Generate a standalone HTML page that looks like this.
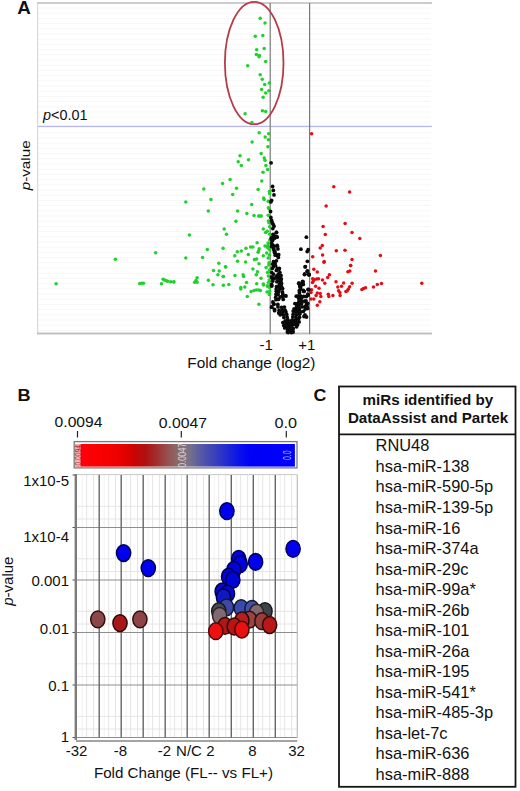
<!DOCTYPE html><html><head><meta charset="utf-8"><style>
html,body{margin:0;padding:0;background:#fff;width:520px;height:791px;overflow:hidden}
svg{position:absolute;left:0;top:0;display:block}
text{font-family:"Liberation Sans",sans-serif;fill:#111}
</style></head><body>
<svg width="520" height="791" viewBox="0 0 520 791">
<defs><linearGradient id="cb" x1="0" x2="1" y1="0" y2="0"><stop offset="0.002" stop-color="#ff0010"/><stop offset="0.111" stop-color="#fa0000"/><stop offset="0.193" stop-color="#ee0000"/><stop offset="0.239" stop-color="#dd0000"/><stop offset="0.271" stop-color="#c80404"/><stop offset="0.316" stop-color="#b01010"/><stop offset="0.362" stop-color="#a42a2a"/><stop offset="0.408" stop-color="#984848"/><stop offset="0.453" stop-color="#8e6464"/><stop offset="0.485" stop-color="#887078"/><stop offset="0.522" stop-color="#74708c"/><stop offset="0.567" stop-color="#5a5aa4"/><stop offset="0.613" stop-color="#4448b4"/><stop offset="0.658" stop-color="#3038c4"/><stop offset="0.704" stop-color="#1a24d8"/><stop offset="0.750" stop-color="#0810ec"/><stop offset="0.795" stop-color="#0000f6"/><stop offset="1.000" stop-color="#0000ff"/></linearGradient></defs>
<text transform="translate(17.3 13.8) scale(1.07 1)" font-size="17.6" font-weight="bold">A</text>
<path d="M38 8.0H431 M38 13.2H431 M38 18.4H431 M38 23.6H431 M38 28.8H431 M38 34.0H431 M38 39.2H431 M38 44.4H431 M38 49.6H431 M38 54.8H431 M38 60.0H431 M38 65.2H431 M38 70.4H431 M38 75.6H431 M38 80.8H431 M38 86.0H431 M38 91.2H431 M38 96.4H431 M38 101.6H431 M38 106.8H431 M38 112.0H431 M38 117.2H431 M38 122.4H431 M38 127.6H431 M38 132.8H431 M38 138.0H431 M38 143.2H431 M38 148.4H431 M38 153.6H431 M38 158.8H431 M38 164.0H431 M38 169.2H431 M38 174.4H431 M38 179.6H431 M38 184.8H431 M38 190.0H431 M38 195.2H431 M38 200.4H431 M38 205.6H431 M38 210.8H431 M38 216.0H431 M38 221.2H431 M38 226.4H431 M38 231.6H431 M38 236.8H431 M38 242.0H431 M38 247.2H431 M38 252.4H431 M38 257.6H431 M38 262.8H431 M38 268.0H431 M38 273.2H431 M38 278.4H431 M38 283.6H431 M38 288.8H431 M38 294.0H431 M38 299.2H431 M38 304.4H431 M38 309.6H431 M38 314.8H431 M38 320.0H431 M38 325.2H431 M38 330.4H431" stroke="#f7f7f7" stroke-width="1" fill="none"/>
<path d="M37 3H432" stroke="#bdbdbd" stroke-width="1.6"/>
<path d="M37.7 3V334" stroke="#d2d2d2" stroke-width="1"/>
<path d="M37 333.4H432" stroke="#c0c0c0" stroke-width="2"/>
<path d="M38 126.4H432" stroke="#b8b8f2" stroke-width="1.1"/>
<path d="M270.2 3V334M309.6 3V334" stroke="#7a7a7a" stroke-width="1.2"/>
<ellipse cx="254.2" cy="63" rx="29.3" ry="61.2" fill="none" stroke="#b43c48" stroke-width="1.8"/>
<g fill="#20d02c"><circle cx="260.2" cy="18.2" r="1.75"/><circle cx="265.0" cy="23.0" r="1.75"/><circle cx="255.3" cy="36.3" r="1.75"/><circle cx="262.8" cy="35.5" r="1.75"/><circle cx="264.2" cy="48.4" r="1.75"/><circle cx="256.7" cy="49.8" r="1.75"/><circle cx="256.4" cy="54.5" r="1.75"/><circle cx="259.3" cy="55.4" r="1.75"/><circle cx="259.0" cy="56.7" r="1.75"/><circle cx="265.7" cy="61.4" r="1.75"/><circle cx="247.7" cy="65.7" r="1.75"/><circle cx="260.2" cy="74.7" r="1.75"/><circle cx="262.2" cy="79.2" r="1.75"/><circle cx="264.7" cy="84.4" r="1.75"/><circle cx="269.3" cy="83.0" r="1.75"/><circle cx="261.6" cy="89.6" r="1.75"/><circle cx="265.7" cy="93.1" r="1.75"/><circle cx="268.8" cy="90.8" r="1.75"/><circle cx="263.1" cy="97.2" r="1.75"/><circle cx="262.4" cy="110.7" r="1.75"/><circle cx="265.7" cy="111.6" r="1.75"/><circle cx="245.1" cy="113.7" r="1.75"/><circle cx="251.9" cy="122.5" r="1.75"/><circle cx="259.2" cy="132.8" r="1.75"/><circle cx="268.7" cy="133.7" r="1.75"/><circle cx="265.2" cy="137.1" r="1.75"/><circle cx="268.4" cy="139.8" r="1.75"/><circle cx="252.1" cy="142.1" r="1.75"/><circle cx="267.9" cy="146.7" r="1.75"/><circle cx="261.2" cy="153.6" r="1.75"/><circle cx="240.0" cy="155.8" r="1.75"/><circle cx="264.2" cy="157.9" r="1.75"/><circle cx="265.0" cy="160.2" r="1.75"/><circle cx="238.2" cy="161.7" r="1.75"/><circle cx="248.5" cy="159.8" r="1.75"/><circle cx="241.3" cy="165.4" r="1.75"/><circle cx="265.9" cy="165.6" r="1.75"/><circle cx="267.6" cy="169.4" r="1.75"/><circle cx="263.0" cy="172.3" r="1.75"/><circle cx="230.1" cy="179.6" r="1.75"/><circle cx="261.8" cy="180.9" r="1.75"/><circle cx="222.5" cy="183.5" r="1.75"/><circle cx="203.8" cy="189.0" r="1.75"/><circle cx="210.9" cy="199.6" r="1.75"/><circle cx="185.8" cy="201.9" r="1.75"/><circle cx="208.3" cy="211.1" r="1.75"/><circle cx="224.2" cy="229.0" r="1.75"/><circle cx="226.5" cy="234.2" r="1.75"/><circle cx="189.4" cy="235.1" r="1.75"/><circle cx="236.5" cy="188.3" r="1.75"/><circle cx="258.1" cy="189.5" r="1.75"/><circle cx="232.7" cy="194.6" r="1.75"/><circle cx="269.4" cy="191.5" r="1.75"/><circle cx="269.6" cy="193.6" r="1.75"/><circle cx="263.6" cy="197.9" r="1.75"/><circle cx="264.2" cy="199.6" r="1.75"/><circle cx="268.2" cy="201.3" r="1.75"/><circle cx="251.7" cy="204.6" r="1.75"/><circle cx="268.4" cy="207.7" r="1.75"/><circle cx="269.0" cy="208.8" r="1.75"/><circle cx="237.6" cy="211.1" r="1.75"/><circle cx="246.8" cy="213.4" r="1.75"/><circle cx="254.0" cy="215.5" r="1.75"/><circle cx="258.6" cy="216.1" r="1.75"/><circle cx="259.8" cy="216.1" r="1.75"/><circle cx="261.3" cy="216.1" r="1.75"/><circle cx="268.2" cy="215.2" r="1.75"/><circle cx="268.4" cy="220.9" r="1.75"/><circle cx="269.0" cy="222.7" r="1.75"/><circle cx="235.9" cy="221.2" r="1.75"/><circle cx="269.6" cy="226.7" r="1.75"/><circle cx="263.3" cy="229.0" r="1.75"/><circle cx="265.6" cy="232.5" r="1.75"/><circle cx="267.3" cy="231.3" r="1.75"/><circle cx="269.6" cy="234.2" r="1.75"/><circle cx="207.3" cy="249.6" r="1.75"/><circle cx="223.1" cy="248.3" r="1.75"/><circle cx="185.8" cy="258.1" r="1.75"/><circle cx="202.6" cy="257.5" r="1.75"/><circle cx="218.8" cy="263.3" r="1.75"/><circle cx="225.7" cy="267.0" r="1.75"/><circle cx="213.5" cy="270.4" r="1.75"/><circle cx="219.2" cy="271.1" r="1.75"/><circle cx="217.9" cy="274.8" r="1.75"/><circle cx="223.3" cy="276.5" r="1.75"/><circle cx="197.1" cy="277.7" r="1.75"/><circle cx="196.0" cy="280.6" r="1.75"/><circle cx="194.6" cy="282.3" r="1.75"/><circle cx="197.1" cy="282.3" r="1.75"/><circle cx="170.6" cy="281.7" r="1.75"/><circle cx="173.8" cy="282.1" r="1.75"/><circle cx="208.4" cy="280.3" r="1.75"/><circle cx="213.0" cy="284.8" r="1.75"/><circle cx="223.4" cy="285.2" r="1.75"/><circle cx="228.8" cy="284.4" r="1.75"/><circle cx="257.1" cy="242.8" r="1.75"/><circle cx="250.6" cy="247.1" r="1.75"/><circle cx="252.9" cy="247.1" r="1.75"/><circle cx="246.0" cy="248.3" r="1.75"/><circle cx="265.0" cy="246.0" r="1.75"/><circle cx="267.3" cy="247.1" r="1.75"/><circle cx="268.4" cy="248.3" r="1.75"/><circle cx="267.9" cy="245.4" r="1.75"/><circle cx="259.2" cy="248.8" r="1.75"/><circle cx="258.6" cy="251.1" r="1.75"/><circle cx="258.1" cy="252.3" r="1.75"/><circle cx="237.3" cy="251.7" r="1.75"/><circle cx="241.3" cy="251.1" r="1.75"/><circle cx="234.8" cy="255.8" r="1.75"/><circle cx="248.3" cy="254.4" r="1.75"/><circle cx="266.7" cy="252.9" r="1.75"/><circle cx="263.3" cy="255.8" r="1.75"/><circle cx="268.2" cy="258.1" r="1.75"/><circle cx="254.4" cy="259.5" r="1.75"/><circle cx="256.7" cy="259.0" r="1.75"/><circle cx="237.5" cy="261.3" r="1.75"/><circle cx="245.6" cy="262.1" r="1.75"/><circle cx="259.0" cy="263.8" r="1.75"/><circle cx="225.5" cy="266.7" r="1.75"/><circle cx="266.1" cy="267.5" r="1.75"/><circle cx="252.9" cy="269.0" r="1.75"/><circle cx="257.5" cy="271.7" r="1.75"/><circle cx="235.0" cy="275.4" r="1.75"/><circle cx="243.1" cy="274.8" r="1.75"/><circle cx="243.6" cy="276.5" r="1.75"/><circle cx="256.3" cy="274.8" r="1.75"/><circle cx="268.4" cy="276.0" r="1.75"/><circle cx="223.2" cy="276.5" r="1.75"/><circle cx="261.0" cy="278.3" r="1.75"/><circle cx="246.5" cy="282.5" r="1.75"/><circle cx="256.7" cy="283.7" r="1.75"/><circle cx="263.3" cy="284.0" r="1.75"/><circle cx="267.3" cy="285.7" r="1.75"/><circle cx="240.8" cy="287.5" r="1.75"/><circle cx="240.8" cy="289.0" r="1.75"/><circle cx="244.8" cy="287.1" r="1.75"/><circle cx="251.1" cy="291.5" r="1.75"/><circle cx="254.0" cy="290.4" r="1.75"/><circle cx="256.3" cy="290.1" r="1.75"/><circle cx="258.6" cy="290.1" r="1.75"/><circle cx="260.4" cy="290.4" r="1.75"/><circle cx="269.6" cy="291.5" r="1.75"/><circle cx="269.0" cy="262.7" r="1.75"/><circle cx="247.3" cy="296.5" r="1.75"/><circle cx="258.9" cy="304.2" r="1.75"/><circle cx="269.3" cy="294.4" r="1.75"/><circle cx="267.5" cy="286.2" r="1.75"/><circle cx="263.5" cy="285.0" r="1.75"/><circle cx="56.1" cy="283.8" r="1.75"/><circle cx="115.4" cy="259.2" r="1.75"/><circle cx="155.7" cy="252.8" r="1.75"/><circle cx="139.7" cy="283.5" r="1.75"/><circle cx="141.8" cy="283.2" r="1.75"/><circle cx="143.5" cy="283.2" r="1.75"/><circle cx="161.5" cy="283.8" r="1.75"/><circle cx="163.1" cy="279.2" r="1.75"/><circle cx="164.6" cy="280.0" r="1.75"/><circle cx="166.2" cy="280.8" r="1.75"/><circle cx="167.7" cy="281.2" r="1.75"/><circle cx="173.8" cy="281.8" r="1.75"/><circle cx="269.5" cy="255.0" r="1.75"/><circle cx="268.8" cy="265.0" r="1.75"/><circle cx="269.5" cy="270.0" r="1.75"/><circle cx="267.5" cy="272.5" r="1.75"/><circle cx="269.3" cy="280.0" r="1.75"/><circle cx="268.5" cy="282.5" r="1.75"/><circle cx="269.5" cy="287.5" r="1.75"/><circle cx="267.0" cy="292.0" r="1.75"/><circle cx="269.7" cy="240.0" r="1.75"/><circle cx="268.0" cy="243.0" r="1.75"/><circle cx="269.8" cy="250.0" r="1.75"/></g>
<g fill="#e60c14"><circle cx="311.6" cy="133.7" r="1.75"/><circle cx="333.8" cy="186.7" r="1.75"/><circle cx="349.6" cy="192.1" r="1.75"/><circle cx="326.1" cy="206.0" r="1.75"/><circle cx="345.1" cy="223.4" r="1.75"/><circle cx="323.1" cy="226.5" r="1.75"/><circle cx="352.0" cy="232.5" r="1.75"/><circle cx="325.3" cy="234.6" r="1.75"/><circle cx="359.8" cy="238.4" r="1.75"/><circle cx="322.3" cy="245.4" r="1.75"/><circle cx="320.2" cy="248.1" r="1.75"/><circle cx="336.3" cy="250.8" r="1.75"/><circle cx="345.0" cy="250.2" r="1.75"/><circle cx="380.4" cy="255.4" r="1.75"/><circle cx="312.7" cy="256.7" r="1.75"/><circle cx="322.6" cy="255.1" r="1.75"/><circle cx="352.0" cy="259.4" r="1.75"/><circle cx="324.2" cy="261.5" r="1.75"/><circle cx="350.6" cy="265.6" r="1.75"/><circle cx="375.5" cy="271.1" r="1.75"/><circle cx="421.8" cy="283.2" r="1.75"/><circle cx="381.5" cy="283.5" r="1.75"/><circle cx="377.3" cy="284.6" r="1.75"/><circle cx="373.5" cy="286.9" r="1.75"/><circle cx="361.9" cy="289.5" r="1.75"/><circle cx="363.5" cy="288.5" r="1.75"/><circle cx="365.5" cy="287.7" r="1.75"/><circle cx="324.0" cy="262.3" r="1.75"/><circle cx="350.7" cy="265.5" r="1.75"/><circle cx="347.9" cy="271.8" r="1.75"/><circle cx="349.8" cy="271.0" r="1.75"/><circle cx="313.8" cy="269.2" r="1.75"/><circle cx="317.3" cy="272.1" r="1.75"/><circle cx="329.4" cy="274.7" r="1.75"/><circle cx="327.7" cy="277.6" r="1.75"/><circle cx="312.7" cy="278.7" r="1.75"/><circle cx="314.4" cy="279.5" r="1.75"/><circle cx="316.7" cy="279.1" r="1.75"/><circle cx="318.5" cy="278.7" r="1.75"/><circle cx="313.3" cy="281.0" r="1.75"/><circle cx="312.5" cy="282.5" r="1.75"/><circle cx="322.5" cy="279.9" r="1.75"/><circle cx="324.8" cy="283.3" r="1.75"/><circle cx="336.0" cy="281.8" r="1.75"/><circle cx="343.6" cy="283.0" r="1.75"/><circle cx="352.1" cy="283.3" r="1.75"/><circle cx="315.6" cy="286.2" r="1.75"/><circle cx="319.0" cy="288.3" r="1.75"/><circle cx="337.8" cy="287.1" r="1.75"/><circle cx="341.5" cy="286.2" r="1.75"/><circle cx="349.6" cy="286.8" r="1.75"/><circle cx="348.4" cy="289.1" r="1.75"/><circle cx="347.3" cy="290.8" r="1.75"/><circle cx="345.9" cy="291.4" r="1.75"/><circle cx="311.5" cy="289.7" r="1.75"/><circle cx="311.0" cy="292.6" r="1.75"/><circle cx="317.3" cy="293.1" r="1.75"/><circle cx="320.2" cy="293.4" r="1.75"/><circle cx="316.1" cy="295.4" r="1.75"/><circle cx="320.8" cy="296.6" r="1.75"/><circle cx="328.3" cy="294.3" r="1.75"/><circle cx="328.8" cy="296.6" r="1.75"/><circle cx="332.9" cy="295.4" r="1.75"/><circle cx="338.6" cy="290.8" r="1.75"/><circle cx="339.8" cy="292.6" r="1.75"/><circle cx="340.1" cy="295.4" r="1.75"/><circle cx="311.0" cy="298.9" r="1.75"/><circle cx="313.8" cy="298.9" r="1.75"/><circle cx="319.8" cy="301.8" r="1.75"/><circle cx="317.3" cy="305.3" r="1.75"/></g>
<g fill="#0a0a0a"><circle cx="271.1" cy="162.8" r="1.9"/><circle cx="272.6" cy="186.5" r="1.9"/><circle cx="273.3" cy="190.4" r="1.9"/><circle cx="274.0" cy="194.9" r="1.9"/><circle cx="271.6" cy="200.4" r="1.9"/><circle cx="270.8" cy="201.9" r="1.9"/><circle cx="270.5" cy="211.5" r="1.9"/><circle cx="270.8" cy="217.5" r="1.9"/><circle cx="271.6" cy="220.4" r="1.9"/><circle cx="272.1" cy="222.3" r="1.9"/><circle cx="273.1" cy="224.2" r="1.9"/><circle cx="274.0" cy="226.2" r="1.9"/><circle cx="272.8" cy="228.6" r="1.9"/><circle cx="276.4" cy="232.4" r="1.9"/><circle cx="273.0" cy="234.3" r="1.9"/><circle cx="276.5" cy="232.5" r="1.9"/><circle cx="273.6" cy="235.4" r="1.9"/><circle cx="274.8" cy="236.5" r="1.9"/><circle cx="277.1" cy="237.1" r="1.9"/><circle cx="271.3" cy="238.2" r="1.9"/><circle cx="273.1" cy="238.8" r="1.9"/><circle cx="273.5" cy="234.8" r="1.9"/><circle cx="274.5" cy="237.7" r="1.9"/><circle cx="276.9" cy="236.9" r="1.9"/><circle cx="271.6" cy="239.1" r="1.9"/><circle cx="272.6" cy="240.6" r="1.9"/><circle cx="271.6" cy="243.5" r="1.9"/><circle cx="272.6" cy="244.9" r="1.9"/><circle cx="277.2" cy="245.4" r="1.9"/><circle cx="273.5" cy="248.3" r="1.9"/><circle cx="274.0" cy="250.2" r="1.9"/><circle cx="274.5" cy="252.6" r="1.9"/><circle cx="275.5" cy="254.0" r="1.9"/><circle cx="277.4" cy="255.5" r="1.9"/><circle cx="278.3" cy="257.4" r="1.9"/><circle cx="273.5" cy="261.7" r="1.9"/><circle cx="275.0" cy="263.2" r="1.9"/><circle cx="276.4" cy="260.8" r="1.9"/><circle cx="272.6" cy="264.1" r="1.9"/><circle cx="273.5" cy="266.5" r="1.9"/><circle cx="275.5" cy="265.6" r="1.9"/><circle cx="277.4" cy="268.5" r="1.9"/><circle cx="278.8" cy="269.4" r="1.9"/><circle cx="276.4" cy="270.4" r="1.9"/><circle cx="279.8" cy="272.3" r="1.9"/><circle cx="278.3" cy="274.2" r="1.9"/><circle cx="271.6" cy="272.3" r="1.9"/><circle cx="273.5" cy="274.2" r="1.9"/><circle cx="271.6" cy="277.1" r="1.9"/><circle cx="274.0" cy="278.1" r="1.9"/><circle cx="277.4" cy="277.1" r="1.9"/><circle cx="279.3" cy="278.6" r="1.9"/><circle cx="306.4" cy="237.2" r="1.9"/><circle cx="300.9" cy="249.2" r="1.9"/><circle cx="308.2" cy="249.7" r="1.9"/><circle cx="307.2" cy="251.6" r="1.9"/><circle cx="307.4" cy="261.3" r="1.9"/><circle cx="305.3" cy="266.7" r="1.9"/><circle cx="307.2" cy="271.3" r="1.9"/><circle cx="304.8" cy="274.2" r="1.9"/><circle cx="309.1" cy="274.4" r="1.9"/><circle cx="305.2" cy="266.8" r="1.9"/><circle cx="307.5" cy="271.0" r="1.9"/><circle cx="304.6" cy="274.1" r="1.9"/><circle cx="308.7" cy="274.5" r="1.9"/><circle cx="302.3" cy="282.2" r="1.9"/><circle cx="301.2" cy="285.1" r="1.9"/><circle cx="300.0" cy="286.8" r="1.9"/><circle cx="308.7" cy="289.7" r="1.9"/><circle cx="304.0" cy="291.4" r="1.9"/><circle cx="308.1" cy="294.9" r="1.9"/><circle cx="276.7" cy="276.2" r="1.9"/><circle cx="279.0" cy="275.9" r="1.9"/><circle cx="281.0" cy="275.5" r="1.9"/><circle cx="276.6" cy="278.2" r="1.9"/><circle cx="279.4" cy="278.2" r="1.9"/><circle cx="281.3" cy="279.0" r="1.9"/><circle cx="276.9" cy="281.7" r="1.9"/><circle cx="279.5" cy="281.0" r="1.9"/><circle cx="280.9" cy="281.0" r="1.9"/><circle cx="279.3" cy="283.9" r="1.9"/><circle cx="281.5" cy="283.4" r="1.9"/><circle cx="276.5" cy="286.6" r="1.9"/><circle cx="279.1" cy="286.5" r="1.9"/><circle cx="281.5" cy="286.7" r="1.9"/><circle cx="276.2" cy="289.1" r="1.9"/><circle cx="279.6" cy="289.2" r="1.9"/><circle cx="282.6" cy="288.6" r="1.9"/><circle cx="276.3" cy="291.3" r="1.9"/><circle cx="278.8" cy="291.8" r="1.9"/><circle cx="282.5" cy="292.0" r="1.9"/><circle cx="276.0" cy="294.3" r="1.9"/><circle cx="278.0" cy="294.5" r="1.9"/><circle cx="282.7" cy="293.8" r="1.9"/><circle cx="275.7" cy="297.3" r="1.9"/><circle cx="280.1" cy="297.0" r="1.9"/><circle cx="282.5" cy="296.5" r="1.9"/><circle cx="276.0" cy="299.7" r="1.9"/><circle cx="278.5" cy="299.3" r="1.9"/><circle cx="283.2" cy="299.4" r="1.9"/><circle cx="277.8" cy="304.5" r="1.9"/><circle cx="278.0" cy="306.9" r="1.9"/><circle cx="281.6" cy="307.3" r="1.9"/><circle cx="284.4" cy="307.1" r="1.9"/><circle cx="279.1" cy="310.3" r="1.9"/><circle cx="282.3" cy="309.9" r="1.9"/><circle cx="285.1" cy="310.2" r="1.9"/><circle cx="280.2" cy="312.7" r="1.9"/><circle cx="283.0" cy="312.0" r="1.9"/><circle cx="285.9" cy="312.0" r="1.9"/><circle cx="280.2" cy="314.8" r="1.9"/><circle cx="283.2" cy="314.7" r="1.9"/><circle cx="286.7" cy="314.5" r="1.9"/><circle cx="283.9" cy="317.4" r="1.9"/><circle cx="287.1" cy="317.2" r="1.9"/><circle cx="287.9" cy="319.8" r="1.9"/><circle cx="282.9" cy="322.6" r="1.9"/><circle cx="288.3" cy="323.3" r="1.9"/><circle cx="283.8" cy="325.4" r="1.9"/><circle cx="286.9" cy="325.9" r="1.9"/><circle cx="284.7" cy="327.9" r="1.9"/><circle cx="288.1" cy="328.0" r="1.9"/><circle cx="290.5" cy="327.7" r="1.9"/><circle cx="296.3" cy="296.2" r="1.9"/><circle cx="298.5" cy="295.9" r="1.9"/><circle cx="300.5" cy="295.8" r="1.9"/><circle cx="303.7" cy="296.5" r="1.9"/><circle cx="306.4" cy="296.5" r="1.9"/><circle cx="298.7" cy="298.3" r="1.9"/><circle cx="301.2" cy="298.7" r="1.9"/><circle cx="298.9" cy="301.5" r="1.9"/><circle cx="301.6" cy="301.6" r="1.9"/><circle cx="304.5" cy="301.2" r="1.9"/><circle cx="294.9" cy="303.6" r="1.9"/><circle cx="297.5" cy="303.7" r="1.9"/><circle cx="299.9" cy="304.0" r="1.9"/><circle cx="301.6" cy="303.5" r="1.9"/><circle cx="306.4" cy="304.1" r="1.9"/><circle cx="296.7" cy="306.4" r="1.9"/><circle cx="299.0" cy="306.9" r="1.9"/><circle cx="302.1" cy="306.8" r="1.9"/><circle cx="305.0" cy="306.7" r="1.9"/><circle cx="307.0" cy="306.2" r="1.9"/><circle cx="294.1" cy="308.8" r="1.9"/><circle cx="296.3" cy="309.4" r="1.9"/><circle cx="299.4" cy="309.1" r="1.9"/><circle cx="305.2" cy="309.0" r="1.9"/><circle cx="307.5" cy="308.5" r="1.9"/><circle cx="293.2" cy="311.1" r="1.9"/><circle cx="295.6" cy="311.6" r="1.9"/><circle cx="298.5" cy="311.4" r="1.9"/><circle cx="300.9" cy="311.9" r="1.9"/><circle cx="303.4" cy="311.3" r="1.9"/><circle cx="293.2" cy="314.2" r="1.9"/><circle cx="296.5" cy="314.6" r="1.9"/><circle cx="299.6" cy="314.2" r="1.9"/><circle cx="292.8" cy="316.8" r="1.9"/><circle cx="295.9" cy="317.2" r="1.9"/><circle cx="299.5" cy="317.2" r="1.9"/><circle cx="292.2" cy="319.8" r="1.9"/><circle cx="296.3" cy="319.3" r="1.9"/><circle cx="298.6" cy="319.0" r="1.9"/><circle cx="291.8" cy="322.4" r="1.9"/><circle cx="294.1" cy="322.2" r="1.9"/><circle cx="296.7" cy="322.5" r="1.9"/><circle cx="299.1" cy="321.9" r="1.9"/><circle cx="291.2" cy="324.9" r="1.9"/><circle cx="293.1" cy="324.6" r="1.9"/><circle cx="295.3" cy="324.4" r="1.9"/><circle cx="297.6" cy="324.7" r="1.9"/><circle cx="288.9" cy="327.0" r="1.9"/><circle cx="291.6" cy="326.8" r="1.9"/><circle cx="296.6" cy="326.8" r="1.9"/><circle cx="288.0" cy="330.1" r="1.9"/><circle cx="291.1" cy="329.7" r="1.9"/><circle cx="287.4" cy="332.0" r="1.9"/><circle cx="293.1" cy="332.0" r="1.9"/><circle cx="285.2" cy="320.8" r="1.9"/><circle cx="287.4" cy="320.9" r="1.9"/><circle cx="290.5" cy="321.5" r="1.9"/><circle cx="292.0" cy="321.5" r="1.9"/><circle cx="294.4" cy="320.5" r="1.9"/><circle cx="286.0" cy="323.4" r="1.9"/><circle cx="288.7" cy="322.9" r="1.9"/><circle cx="290.9" cy="323.3" r="1.9"/><circle cx="293.5" cy="323.2" r="1.9"/><circle cx="286.5" cy="325.8" r="1.9"/><circle cx="289.0" cy="326.0" r="1.9"/><circle cx="291.1" cy="325.6" r="1.9"/><circle cx="287.3" cy="328.3" r="1.9"/><circle cx="290.3" cy="328.6" r="1.9"/><circle cx="293.2" cy="328.5" r="1.9"/><circle cx="287.7" cy="330.6" r="1.9"/><circle cx="290.3" cy="330.9" r="1.9"/><circle cx="292.7" cy="330.8" r="1.9"/><circle cx="288.2" cy="332.5" r="1.9"/><circle cx="291.4" cy="332.6" r="1.9"/><circle cx="271.7" cy="237.9" r="1.9"/><circle cx="274.7" cy="238.1" r="1.9"/><circle cx="272.0" cy="240.4" r="1.9"/><circle cx="271.5" cy="246.4" r="1.9"/><circle cx="274.4" cy="246.1" r="1.9"/><circle cx="277.4" cy="246.2" r="1.9"/><circle cx="277.9" cy="248.9" r="1.9"/><circle cx="274.8" cy="251.5" r="1.9"/><circle cx="275.2" cy="255.2" r="1.9"/><circle cx="278.7" cy="254.7" r="1.9"/><circle cx="272.3" cy="268.4" r="1.9"/><circle cx="279.3" cy="268.4" r="1.9"/><circle cx="271.6" cy="284.7" r="1.9"/><circle cx="285.0" cy="295.8" r="1.9"/><circle cx="271.6" cy="307.0" r="1.9"/><circle cx="274.5" cy="309.5" r="1.9"/><circle cx="299.0" cy="283.3" r="1.9"/><circle cx="303.0" cy="281.8" r="1.9"/><circle cx="300.5" cy="286.7" r="1.9"/><circle cx="299.5" cy="292.4" r="1.9"/><circle cx="303.3" cy="290.5" r="1.9"/><circle cx="308.0" cy="289.5" r="1.9"/><circle cx="308.0" cy="295.3" r="1.9"/><circle cx="306.0" cy="301.0" r="1.9"/><circle cx="307.6" cy="303.5" r="1.9"/><circle cx="305.0" cy="315.0" r="1.9"/><circle cx="306.5" cy="317.0" r="1.9"/><circle cx="304.0" cy="316.5" r="1.9"/><circle cx="273.5" cy="303.7" r="1.9"/><circle cx="271.7" cy="307.2" r="1.9"/><circle cx="274.6" cy="310.7" r="1.9"/><circle cx="278.7" cy="313.0" r="1.9"/><circle cx="272.9" cy="302.0" r="1.9"/><circle cx="274.1" cy="304.3" r="1.9"/><circle cx="271.8" cy="277.2" r="1.9"/><circle cx="272.9" cy="279.5" r="1.9"/><circle cx="272.6" cy="281.2" r="1.9"/><circle cx="271.5" cy="285.0" r="1.9"/><circle cx="271.8" cy="286.1" r="1.9"/><circle cx="304.5" cy="274.6" r="1.9"/><circle cx="309.1" cy="274.9" r="1.9"/><circle cx="298.7" cy="283.2" r="1.9"/><circle cx="302.7" cy="281.5" r="1.9"/><circle cx="303.3" cy="284.4" r="1.9"/><circle cx="299.8" cy="285.5" r="1.9"/><circle cx="300.4" cy="287.8" r="1.9"/><circle cx="299.3" cy="290.7" r="1.9"/><circle cx="303.9" cy="291.3" r="1.9"/><circle cx="300.7" cy="289.0" r="1.9"/><circle cx="308.5" cy="289.6" r="1.9"/><circle cx="307.9" cy="294.2" r="1.9"/><circle cx="286.0" cy="296.0" r="1.9"/></g>
<text transform="translate(43.1 120) scale(1.03 1)" font-size="14"><tspan font-style="italic">p</tspan>&lt;0.01</text>
<text transform="translate(30 165.3) rotate(-90) scale(1.175 1)" text-anchor="middle" font-size="13"><tspan font-style="italic">p</tspan>-value</text>
<text x="259.6" y="350.1" font-size="15">-1</text>
<text x="298.3" y="350.1" font-size="15">+1</text>
<text transform="translate(187.3 368.3) scale(1.025 1)" font-size="15">Fold change (log2)</text>
<text transform="translate(17.4 401.3) scale(1.12 1)" font-size="16.2" font-weight="bold">B</text>
<text transform="translate(54.6 427.4) scale(1.045 1)" font-size="15">0.0094</text>
<text transform="translate(158.8 428.2) scale(1.03 1)" font-size="15.3">0.0047</text>
<text transform="translate(274.6 428) scale(1.08 1)" font-size="15">0.0</text>
<path d="M77.5 431V437.5M181.3 431V437.5M286.3 431V437.5" stroke="#222" stroke-width="1.2"/>
<rect x="74.2" y="441.6" width="222.8" height="26.3" fill="#fff" stroke="#7a7a7a" stroke-width="1.3"/>
<rect x="75.6" y="444" width="219.3" height="22.6" fill="url(#cb)"/>
<rect x="75.6" y="444" width="5" height="22.6" fill="#f2b0b0"/>
<text transform="translate(78.2 455.3) rotate(-90) scale(0.75 1)" text-anchor="middle" dominant-baseline="central" font-size="9" style="fill:#b02020">0.0094</text>
<text transform="translate(183 455.3) rotate(-90) scale(0.8 1)" text-anchor="middle" dominant-baseline="central" font-size="10" style="fill:#d8d8d8">0.0047</text>
<text transform="translate(287 455.3) rotate(-90) scale(0.62 1)" text-anchor="middle" dominant-baseline="central" font-size="11" style="fill:#c4c4ff">0.0</text>
<path d="M82.2 475V737.5 M104.2 475V737.5 M126.2 475V737.5 M148.2 475V737.5 M170.2 475V737.5 M192.2 475V737.5 M214.2 475V737.5 M236.3 475V737.5 M258.3 475V737.5 M280.3 475V737.5" stroke="#f0f0f0" stroke-width="0.9" fill="none"/>
<path d="M77 506.3H297.3 M77 519.0H297.3 M77 558.8H297.3 M77 571.5H297.3 M77 611.3H297.3 M77 624.0H297.3 M77 663.8H297.3 M77 676.5H297.3 M77 716.3H297.3 M77 729.0H297.3 M86.6 475V737.5 M93.5 475V737.5 M108.6 475V737.5 M115.5 475V737.5 M130.6 475V737.5 M137.5 475V737.5 M152.6 475V737.5 M159.5 475V737.5 M174.6 475V737.5 M181.5 475V737.5 M196.6 475V737.5 M203.5 475V737.5 M218.7 475V737.5 M225.6 475V737.5 M240.7 475V737.5 M247.6 475V737.5 M262.7 475V737.5 M269.6 475V737.5 M284.7 475V737.5 M291.6 475V737.5" stroke="#e3e3e3" stroke-width="0.9" fill="none"/>
<path d="M76 527.5H297.3 M76 580H297.3 M76 632.5H297.3 M76 685H297.3 M76 737.5H297.3" stroke="#8e8e8e" stroke-width="1.1"/>
<path d="M76 474.6H297.3" stroke="#c8c8c8" stroke-width="1"/>
<path d="M99.2 475V737.5 M121.2 475V737.5 M143.2 475V737.5 M165.2 475V737.5 M187.2 475V737.5 M209.2 475V737.5 M231.3 475V737.5 M253.3 475V737.5 M275.3 475V737.5" stroke="#666666" stroke-width="1.4"/>
<path d="M297.3 475V738" stroke="#bdbdbd" stroke-width="1.2"/>
<path d="M75.8 474V740" stroke="#7c7c7c" stroke-width="2.4"/>
<path d="M76 740.9H297.3" stroke="#a4a4a4" stroke-width="2"/>
<path d="M72.5 475H75 M72.5 527.5H75 M72.5 580H75 M72.5 632.5H75 M72.5 685H75 M72.5 737.5H75" stroke="#555" stroke-width="1"/>
<text x="69" y="486.4" font-size="15" text-anchor="end">1x10-5</text>
<text x="69" y="542.1" font-size="15" text-anchor="end">1x10-4</text>
<text x="69" y="586.3" font-size="15" text-anchor="end">0.001</text>
<text x="69" y="633.9" font-size="15" text-anchor="end">0.01</text>
<text x="69" y="690.5" font-size="15" text-anchor="end">0.1</text>
<text x="69" y="741.9" font-size="15" text-anchor="end">1</text>
<text transform="translate(13.4 581.2) rotate(-90)" text-anchor="middle" font-size="15"><tspan font-style="italic">p</tspan>-value</text>
<text x="76.5" y="756.2" font-size="15" text-anchor="middle">-32</text>
<text x="120.5" y="756.2" font-size="15" text-anchor="middle">-8</text>
<text x="164.5" y="756.2" font-size="15" text-anchor="middle">-2</text>
<text x="189" y="756.2" font-size="15" text-anchor="middle">N/C</text>
<text x="210.5" y="756.2" font-size="15" text-anchor="middle">2</text>
<text x="252.5" y="756.2" font-size="15" text-anchor="middle">8</text>
<text x="296.5" y="756.2" font-size="15" text-anchor="middle">32</text>
<text transform="translate(93.9 777.7) scale(1.012 1)" font-size="15">Fold Change (FL-- vs FL+)</text>
<ellipse cx="123.6" cy="553.1" rx="7.1" ry="8.4" fill="#0000ee" stroke="#000050" stroke-width="1.5"/>
<ellipse cx="148.3" cy="568.1" rx="7.1" ry="8.4" fill="#0000ee" stroke="#000050" stroke-width="1.5"/>
<ellipse cx="226.9" cy="511.2" rx="7.1" ry="8.4" fill="#0000ee" stroke="#000050" stroke-width="1.5"/>
<ellipse cx="293.1" cy="548.8" rx="7.1" ry="8.4" fill="#0000ee" stroke="#000050" stroke-width="1.5"/>
<ellipse cx="255.6" cy="561.9" rx="7.1" ry="8.4" fill="#0000ee" stroke="#000050" stroke-width="1.5"/>
<ellipse cx="238.7" cy="558.8" rx="7.1" ry="8.4" fill="#0000e0" stroke="#000050" stroke-width="1.5"/>
<ellipse cx="240.2" cy="564" rx="7.1" ry="8.4" fill="#0000dc" stroke="#000050" stroke-width="1.5"/>
<ellipse cx="233.8" cy="570" rx="7.1" ry="8.4" fill="#0004d8" stroke="#000050" stroke-width="1.5"/>
<ellipse cx="228.6" cy="576.7" rx="7.1" ry="8.4" fill="#0004d4" stroke="#000050" stroke-width="1.5"/>
<ellipse cx="232.8" cy="579.9" rx="7.1" ry="8.4" fill="#0004d4" stroke="#000050" stroke-width="1.5"/>
<ellipse cx="222.2" cy="591.5" rx="7.1" ry="8.4" fill="#0808cc" stroke="#000048" stroke-width="1.5"/>
<ellipse cx="227.5" cy="593.7" rx="7.1" ry="8.4" fill="#0808cc" stroke="#000048" stroke-width="1.5"/>
<ellipse cx="223.5" cy="597.3" rx="7.1" ry="8.4" fill="#1018c4" stroke="#000048" stroke-width="1.5"/>
<ellipse cx="226.5" cy="607.3" rx="7.1" ry="8.4" fill="#4048a0" stroke="#101840" stroke-width="1.5"/>
<ellipse cx="241.2" cy="608.1" rx="7.1" ry="8.4" fill="#3a4aa8" stroke="#101840" stroke-width="1.5"/>
<ellipse cx="251.9" cy="608.8" rx="7.1" ry="8.4" fill="#4650a0" stroke="#101840" stroke-width="1.5"/>
<ellipse cx="218.8" cy="611.2" rx="7.1" ry="8.4" fill="#484858" stroke="#181820" stroke-width="1.5"/>
<ellipse cx="265" cy="611.2" rx="7.1" ry="8.4" fill="#3c4448" stroke="#181820" stroke-width="1.5"/>
<ellipse cx="219.6" cy="615.8" rx="7.1" ry="8.4" fill="#7e6a70" stroke="#302020" stroke-width="1.5"/>
<ellipse cx="256.5" cy="612.7" rx="7.1" ry="8.4" fill="#806a70" stroke="#302020" stroke-width="1.5"/>
<ellipse cx="249.6" cy="619.6" rx="7.1" ry="8.4" fill="#984444" stroke="#301010" stroke-width="1.5"/>
<ellipse cx="261.9" cy="621.2" rx="7.1" ry="8.4" fill="#983c3c" stroke="#301010" stroke-width="1.5"/>
<ellipse cx="241.9" cy="620.4" rx="7.1" ry="8.4" fill="#b02020" stroke="#300808" stroke-width="1.5"/>
<ellipse cx="225" cy="625.8" rx="7.1" ry="8.4" fill="#b01818" stroke="#300808" stroke-width="1.5"/>
<ellipse cx="234.2" cy="626.5" rx="7.1" ry="8.4" fill="#b81414" stroke="#300808" stroke-width="1.5"/>
<ellipse cx="269.6" cy="625" rx="7.1" ry="8.4" fill="#b81818" stroke="#300808" stroke-width="1.5"/>
<ellipse cx="215.8" cy="631.2" rx="7.1" ry="8.4" fill="#ec1010" stroke="#500808" stroke-width="1.5"/>
<ellipse cx="241.9" cy="629.6" rx="7.1" ry="8.4" fill="#e81212" stroke="#500808" stroke-width="1.5"/>
<ellipse cx="97.8" cy="619.3" rx="7.1" ry="8.4" fill="#8c4848" stroke="#301010" stroke-width="1.5"/>
<ellipse cx="120" cy="623.1" rx="7.1" ry="8.4" fill="#a81818" stroke="#300808" stroke-width="1.5"/>
<ellipse cx="139.9" cy="619.3" rx="7.1" ry="8.4" fill="#8e4444" stroke="#301010" stroke-width="1.5"/>
<text transform="translate(313.6 401.3) scale(1.1 1)" font-size="16.2" font-weight="bold">C</text>
<rect x="339" y="386.5" width="176.5" height="400.3" fill="none" stroke="#151515" stroke-width="1.8"/>
<path d="M339 434.4H515.5" stroke="#151515" stroke-width="1.6"/>
<text transform="translate(427.9 404.6) scale(1.012 1)" font-size="15" font-weight="bold" text-anchor="middle">miRs identified by</text>
<text transform="translate(428 422.8) scale(1.012 1)" font-size="15" font-weight="bold" text-anchor="middle">DataAssist and Partek</text>
<text transform="translate(375.6 451.4) scale(1.025 1)" font-size="16">RNU48</text>
<text transform="translate(375.6 471.9) scale(1.025 1)" font-size="16">hsa-miR-138</text>
<text transform="translate(375.6 492.4) scale(1.025 1)" font-size="16">hsa-miR-590-5p</text>
<text transform="translate(375.6 513.0) scale(1.025 1)" font-size="16">hsa-miR-139-5p</text>
<text transform="translate(375.6 533.5) scale(1.025 1)" font-size="16">hsa-miR-16</text>
<text transform="translate(375.6 554.0) scale(1.025 1)" font-size="16">hsa-miR-374a</text>
<text transform="translate(375.6 574.5) scale(1.025 1)" font-size="16">hsa-miR-29c</text>
<text transform="translate(375.6 595.0) scale(1.025 1)" font-size="16">hsa-miR-99a*</text>
<text transform="translate(375.6 615.6) scale(1.025 1)" font-size="16">hsa-miR-26b</text>
<text transform="translate(375.6 636.1) scale(1.025 1)" font-size="16">hsa-miR-101</text>
<text transform="translate(375.6 656.6) scale(1.025 1)" font-size="16">hsa-miR-26a</text>
<text transform="translate(375.6 677.1) scale(1.025 1)" font-size="16">hsa-miR-195</text>
<text transform="translate(375.6 697.6) scale(1.025 1)" font-size="16">hsa-miR-541*</text>
<text transform="translate(375.6 718.2) scale(1.025 1)" font-size="16">hsa-miR-485-3p</text>
<text transform="translate(375.6 738.7) scale(1.025 1)" font-size="16">hsa-let-7c</text>
<text transform="translate(375.6 759.2) scale(1.025 1)" font-size="16">hsa-miR-636</text>
<text transform="translate(375.6 779.7) scale(1.025 1)" font-size="16">hsa-miR-888</text>
</svg></body></html>
